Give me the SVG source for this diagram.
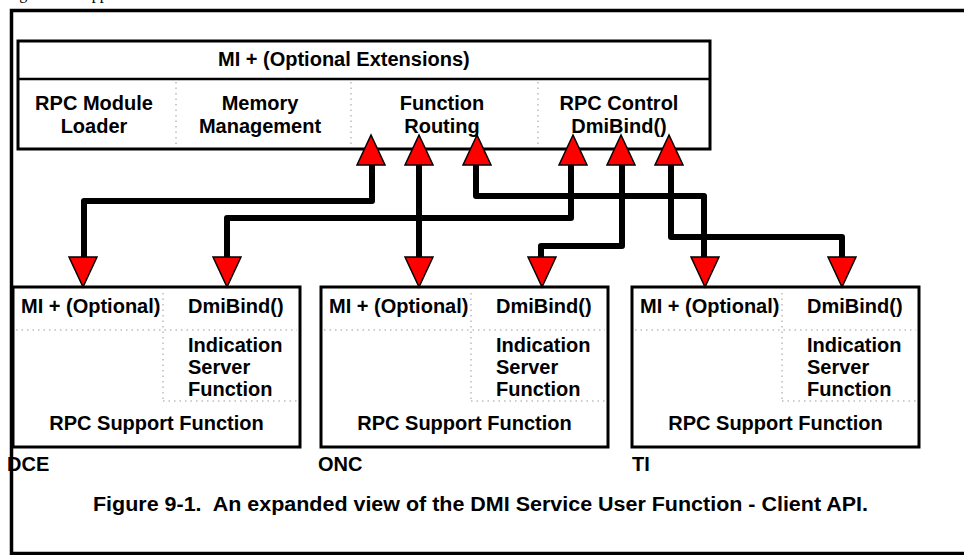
<svg xmlns="http://www.w3.org/2000/svg" xmlns:xlink="http://www.w3.org/1999/xlink" width="964" height="555" viewBox="0 0 964 555">
  <style>
    .t { font-family: "Liberation Sans", Arial, sans-serif; font-weight: bold; font-size: 20px; fill: #000; }
    .mid { text-anchor: middle; }
    .box { fill: #fff; stroke: #000; stroke-width: 3; }
    .dot { stroke: #999; stroke-width: 1; stroke-dasharray: 1.5 4; fill: none; }
    .wire { fill: none; stroke: #000; stroke-width: 6; stroke-linejoin: round; }
    .head { fill: #ff0000; stroke: #000; stroke-width: 1.5; stroke-linejoin: miter; }
    .frame { fill: none; stroke: #000; stroke-width: 3.5; }
  </style>
  <defs>
    <polygon id="up" class="head" points="0,0 -14,30 14,30"/>
    <polygon id="down" class="head" points="0,0 -14,-30 14,-30"/>
    <g id="client">
      <rect class="box" x="0" y="0" width="287" height="160"/>
      <line class="dot" x1="150" y1="6" x2="150" y2="112"/>
      <line class="dot" x1="3" y1="43" x2="284" y2="43"/>
      <line class="dot" x1="150" y1="114" x2="284" y2="114"/>
      <text class="t" x="8" y="26">MI + (Optional)</text>
      <text class="t" x="175" y="26">DmiBind()</text>
      <text class="t" x="175" y="65">Indication</text>
      <text class="t" x="175" y="87">Server</text>
      <text class="t" x="175" y="109">Function</text>
      <text class="t mid" x="143.5" y="143">RPC Support Function</text>
    </g>
  </defs>

  <rect x="0" y="0" width="964" height="555" fill="#fff"/>

  <!-- page heading running off the top edge: only its descenders fall inside -->
  <text x="6" y="-1" font-family="'Liberation Serif', 'Times New Roman', serif" font-size="16">Figure 9-1. Application</text>

  <!-- outer frame (left, top, bottom rules) -->
  <path class="frame" d="M964,10.5 H11.5 V553.5 H964"/>

  <!-- top node: MI + extensions -->
  <g id="mi-extensions">
    <rect class="box" x="18" y="41" width="692" height="108" stroke-width="2.5"/>
    <line x1="18" y1="79" x2="710" y2="79" stroke="#000" stroke-width="2.5"/>
    <line class="dot" x1="176" y1="82" x2="176" y2="147"/>
    <line class="dot" x1="351" y1="82" x2="351" y2="147"/>
    <line class="dot" x1="538" y1="82" x2="538" y2="147"/>
    <text class="t" x="218" y="66">MI + (Optional Extensions)</text>
    <text class="t mid" x="94" y="110">RPC Module</text>
    <text class="t mid" x="94" y="133">Loader</text>
    <text class="t mid" x="260" y="110">Memory</text>
    <text class="t mid" x="260" y="133">Management</text>
    <text class="t mid" x="442" y="110">Function</text>
    <text class="t mid" x="442" y="133">Routing</text>
    <text class="t mid" x="619" y="110">RPC Control</text>
    <text class="t mid" x="619" y="133">DmiBind()</text>
  </g>

  <!-- client nodes -->
  <g id="dce">
    <use xlink:href="#client" x="13" y="287"/>
    <text class="t" x="7" y="471">DCE</text>
  </g>
  <g id="onc">
    <use xlink:href="#client" x="321" y="287"/>
    <text class="t" x="318" y="471">ONC</text>
  </g>
  <g id="ti">
    <use xlink:href="#client" x="632" y="287"/>
    <text class="t" x="632" y="471">TI</text>
  </g>

  <!-- connectors -->
  <g id="connectors">
    <path class="wire" d="M372,165 V201 H84 V258"/>
    <path class="wire" d="M419,165 V258"/>
    <path class="wire" d="M571,165 V218 H227 V258"/>
    <path class="wire" d="M476,165 V196 H704 V258"/>
    <path class="wire" d="M622,165 V246 H541 V258"/>
    <path class="wire" d="M671,165 V237 H842 V258"/>

    <use xlink:href="#up" x="371" y="135"/>
    <use xlink:href="#up" x="419" y="135"/>
    <use xlink:href="#up" x="477" y="135"/>
    <use xlink:href="#up" x="573" y="135"/>
    <use xlink:href="#up" x="621" y="135"/>
    <use xlink:href="#up" x="669" y="135"/>

    <use xlink:href="#down" x="83" y="287"/>
    <use xlink:href="#down" x="227" y="287"/>
    <use xlink:href="#down" x="419" y="287"/>
    <use xlink:href="#down" x="542" y="287"/>
    <use xlink:href="#down" x="705" y="287"/>
    <use xlink:href="#down" x="842" y="287"/>
  </g>

  <!-- caption -->
  <text class="t" x="93" y="511" xml:space="preserve" textLength="775" lengthAdjust="spacingAndGlyphs">Figure 9-1.  An expanded view of the DMI Service User Function - Client API.</text>
</svg>
